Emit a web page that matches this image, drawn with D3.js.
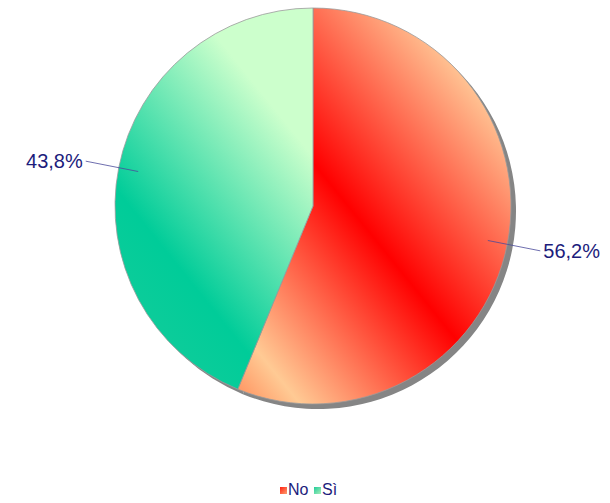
<!DOCTYPE html>
<html>
<head>
<meta charset="utf-8">
<script src="https://cdn.jsdelivr.net/npm/d3@7"></script>
<style>
  body { margin: 0; background: #fff; }
</style>
</head>
<body>
<div class="pie_chart"></div>
<script>
var categories = ["No", "Sì"];
var values = [56.2, 43.8];
var labels = ["56,2%", "43,8%"];

var width = 610, height = 503;
var cx = 313, cy = 206, radius = 198;

var svg = d3.select(".pie_chart")
    .append("svg")
    .attr("width", width)
    .attr("height", height)

var defs = svg.append("defs")

// gradients are given relative to the pie centre (slices are drawn in a translated group)
var gRed = defs.append("linearGradient")
    .attr("id", "gradRed")
    .attr("gradientUnits", "userSpaceOnUse")
    .attr("x1", 178 - cx).attr("y1", 315 - cy)
    .attr("x2", 467 - cx).attr("y2", 81 - cy)
gRed.append("stop").attr("offset", 0).attr("stop-color", "#ff9966")
gRed.append("stop").attr("offset", 0.105).attr("stop-color", "#ffca94")
gRed.append("stop").attr("offset", 0.54).attr("stop-color", "#ff0000")
gRed.append("stop").attr("offset", 1).attr("stop-color", "#ffc292")

var gGreen = defs.append("linearGradient")
    .attr("id", "gradGreen")
    .attr("gradientUnits", "userSpaceOnUse")
    .attr("x1", 159 - cx).attr("y1", 330 - cy)
    .attr("x2", 410 - cx).attr("y2", 128 - cy)
gGreen.append("stop").attr("offset", 0).attr("stop-color", "#0ccc9a")
gGreen.append("stop").attr("offset", 0.17).attr("stop-color", "#00cc99")
gGreen.append("stop").attr("offset", 0.71).attr("stop-color", "#ccffcc")
gGreen.append("stop").attr("offset", 1).attr("stop-color", "#ccffcc")

var lRed = defs.append("linearGradient")
    .attr("id", "legRed")
    .attr("x1", 0).attr("y1", 0).attr("x2", 1).attr("y2", 1)
lRed.append("stop").attr("offset", 0).attr("stop-color", "#ff2010")
lRed.append("stop").attr("offset", 1).attr("stop-color", "#ffa070")

var lGreen = defs.append("linearGradient")
    .attr("id", "legGreen")
    .attr("x1", 0).attr("y1", 0).attr("x2", 1).attr("y2", 1)
lGreen.append("stop").attr("offset", 0).attr("stop-color", "#20cc99")
lGreen.append("stop").attr("offset", 1).attr("stop-color", "#aaeebb")

var fills = ["url(#gradRed)", "url(#gradGreen)"];
var legendFills = ["url(#legRed)", "url(#legGreen)"];

var pie = d3.pie().sort(null).value(function(d) { return d; });
var arcs = pie(values);

var arc = d3.arc().innerRadius(0).outerRadius(radius);

// shadow
svg.append("g")
    .attr("transform", "translate(" + (cx + 5) + "," + (cy + 5) + ")")
    .selectAll("path")
    .data(arcs)
    .enter()
    .append("path")
    .attr("d", arc)
    .attr("fill", "#858585")

var g = svg.append("g")
    .attr("transform", "translate(" + cx + "," + cy + ")")

g.selectAll("path")
    .data(arcs)
    .enter()
    .append("path")
    .attr("d", arc)
    .attr("fill", function(d, i) { return fills[i]; })
    .attr("stroke", "#9a9a9a")
    .attr("stroke-width", 0.8)

// leader lines and labels
arcs.forEach(function(d, i) {
    var mid = (d.startAngle + d.endAngle) / 2;
    var p1 = [Math.sin(mid) * radius * 0.9, -Math.cos(mid) * radius * 0.9];
    var p2 = [Math.sin(mid) * radius * 1.17, -Math.cos(mid) * radius * 1.17];
    var right = Math.sin(mid) > 0;

    g.append("line")
        .attr("x1", p1[0])
        .attr("y1", p1[1])
        .attr("x2", p2[0])
        .attr("y2", p2[1])
        .style("stroke", "#4a4a9a")
        .style("stroke-width", 0.8)

    g.append("text")
        .attr("x", p2[0] + (right ? 3 : -3))
        .attr("y", p2[1] + 7)
        .attr("text-anchor", right ? "start" : "end")
        .text(labels[i])
        .style("font-size", "20px")
        .attr("font-family", "Liberation Sans, Arial, sans-serif")
        .attr("fill", "#1c1c7c")
})

// legend
var legendX = [280, 314];
categories.forEach(function(c, i) {
    svg.append("rect")
        .attr("x", legendX[i])
        .attr("y", 487)
        .attr("width", 7)
        .attr("height", 7)
        .attr("fill", legendFills[i])

    svg.append("text")
        .attr("x", legendX[i] + 8)
        .attr("y", 495)
        .text(c)
        .style("font-size", "16px")
        .attr("font-family", "Liberation Sans, Arial, sans-serif")
        .attr("fill", "#1c1c7c")
})
</script>
</body>
</html>
